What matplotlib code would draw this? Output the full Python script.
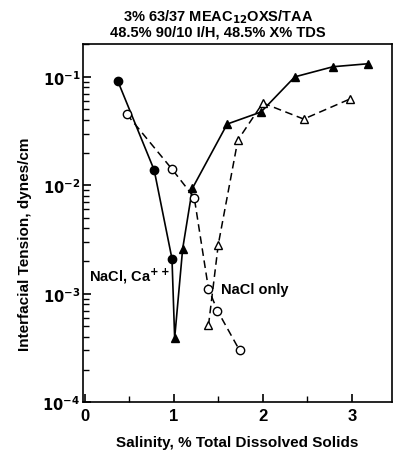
"""IFT vs salinity scan, NaCl with/without Ca++ (log scale)."""

import matplotlib
matplotlib.use("Agg")
import matplotlib.pyplot as plt

plt.rcParams["font.family"] = ["Liberation Sans", "DejaVu Sans"]
plt.rcParams["font.weight"] = "bold"

# NaCl, Ca++ (solid line): circles at low salinity, triangles after the minimum
ca_circ_x = [0.37, 0.78, 0.98]
ca_circ_y = [0.092, 0.0138, 0.0021]
ca_tri_x  = [1.01, 1.10, 1.21, 1.60, 1.98, 2.36, 2.79, 3.18]
ca_tri_y  = [3.9e-4, 0.0026, 0.0094, 0.0367, 0.0474, 0.100, 0.124, 0.132]

# NaCl only (dashed lines)
na_circ_x = [0.47, 0.98, 1.23, 1.39, 1.49, 1.74]
na_circ_y = [0.0454, 0.0141, 0.0077, 0.00111, 0.00070, 0.00030]
na_tri_x  = [1.39, 1.50, 1.72, 2.00, 2.46, 2.98]
na_tri_y  = [5.1e-4, 0.00284, 0.0261, 0.0574, 0.0408, 0.0625]

x_ticks = [0, 1, 2, 3]
y_ticks = [1e-4, 1e-3, 1e-2, 1e-1]
y_labels = [r"$\mathbf{10^{-4}}$", r"$\mathbf{10^{-3}}$",
            r"$\mathbf{10^{-2}}$", r"$\mathbf{10^{-1}}$"]

fig = plt.figure(figsize=(3.98, 4.52), dpi=100)
ax = fig.add_axes([0.2085, 0.108, 0.776, 0.792])

ax.plot(ca_circ_x + ca_tri_x, ca_circ_y + ca_tri_y, color="black", lw=1.2)
ax.plot(ca_circ_x, ca_circ_y, "o", color="black", ms=6)
ax.plot(ca_tri_x, ca_tri_y, "^", color="black", ms=6)

ax.plot(na_circ_x, na_circ_y, color="black", lw=1.1, ls=(0, (5, 3)),
        marker="o", mfc="white", mec="black", ms=6)
ax.plot(na_tri_x, na_tri_y, color="black", lw=1.1, ls=(0, (5, 3)),
        marker="^", mfc="white", mec="black", ms=6)

ax.set_yscale("log")
ax.set_xlim(-0.02, 3.45)
ax.set_ylim(1e-4, 2e-1)

ax.set_xticks(x_ticks)
ax.set_xticklabels([str(t) for t in x_ticks], fontsize=12, fontweight="bold")
ax.set_xticks([0.5, 1.5, 2.5], minor=True)
ax.set_yticks(y_ticks)
ax.set_yticklabels(y_labels, fontsize=10.5)
ax.tick_params(axis="both", which="major", direction="in", length=6, width=1.2)
ax.tick_params(axis="both", which="minor", direction="in", length=4, width=1.0)
ax.tick_params(axis="x", pad=4)
ax.tick_params(axis="y", pad=2)
for sp in ax.spines.values():
    sp.set_linewidth(1.2)

ax.text(0.05, 1.47e-3, r"NaCl, Ca$^{++}$", fontsize=10.5, fontweight="bold",
        va="center")
ax.text(1.53, 1.11e-3, "NaCl only", fontsize=10.5, fontweight="bold",
        va="center")

ax.set_xlabel("Salinity, % Total Dissolved Solids", fontsize=11,
              fontweight="bold", labelpad=9)
fig.text(0.062, 0.46, "Interfacial Tension, dynes/cm", rotation=90,
         ha="center", va="center", fontsize=11, fontweight="bold")

fig.text(0.548, 0.962, r"3% 63/37 MEAC$_{\mathbf{12}}$OXS/TAA", ha="center",
         va="center", fontsize=10.5, fontweight="bold")
fig.text(0.548, 0.928, "48.5% 90/10 I/H, 48.5% X% TDS", ha="center",
         va="center", fontsize=10.5, fontweight="bold")

fig.savefig("out.png", dpi=100, facecolor="white")
